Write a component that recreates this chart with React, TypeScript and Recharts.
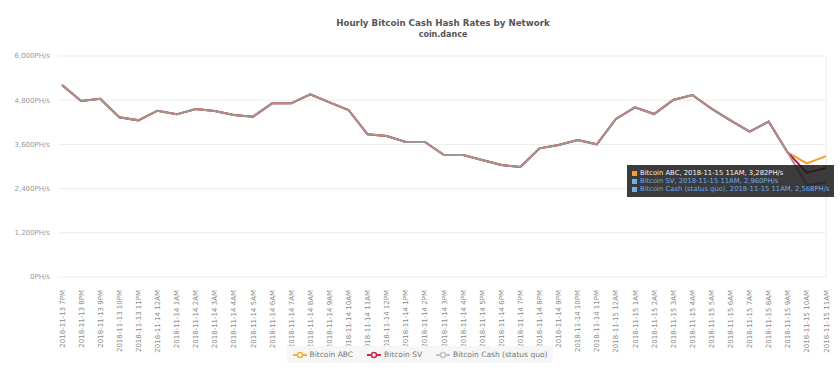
import { LineChart, Line, XAxis, YAxis, CartesianGrid, Tooltip, Legend, ReferenceLine } from "recharts";

const hours = [
  "2018-11-13 7PM", "2018-11-13 8PM", "2018-11-13 9PM", "2018-11-13 10PM", "2018-11-13 11PM",
  "2018-11-14 12AM", "2018-11-14 1AM", "2018-11-14 2AM", "2018-11-14 3AM", "2018-11-14 4AM",
  "2018-11-14 5AM", "2018-11-14 6AM", "2018-11-14 7AM", "2018-11-14 8AM", "2018-11-14 9AM",
  "2018-11-14 10AM", "2018-11-14 11AM", "2018-11-14 12PM", "2018-11-14 1PM", "2018-11-14 2PM",
  "2018-11-14 3PM", "2018-11-14 4PM", "2018-11-14 5PM", "2018-11-14 6PM", "2018-11-14 7PM",
  "2018-11-14 8PM", "2018-11-14 9PM", "2018-11-14 10PM", "2018-11-14 11PM",
  "2018-11-15 12AM", "2018-11-15 1AM", "2018-11-15 2AM", "2018-11-15 3AM", "2018-11-15 4AM",
  "2018-11-15 5AM", "2018-11-15 6AM", "2018-11-15 7AM", "2018-11-15 8AM", "2018-11-15 9AM",
  "2018-11-15 10AM", "2018-11-15 11AM",
];

// before the fork all three networks report the same hash rate
const sharedHash = [
  5213, 4778, 4841, 4335, 4253, 4515, 4416, 4561, 4507, 4398,
  4353, 4715, 4715, 4960, 4742, 4534, 3874, 3828, 3665, 3665,
  3312, 3312, 3176, 3041, 2986, 3493, 3584, 3719, 3602, 4290,
  4606, 4425, 4805, 4941, 4570, 4253, 3945, 4217, 3375,
];
const abcHash = [...sharedHash, 3086, 3282];
const svHash = [...sharedHash, 2832, 2960];
const cashHash = [...sharedHash, 2498, 2568];

const yTicks = [0, 1200, 2400, 3600, 4800, 6000];

const series = [
  { key: "abc", name: "Bitcoin ABC", color: "#f0a030", tipColor: "#f0f0f0" },
  { key: "sv", name: "Bitcoin SV", color: "#b3173d", tipColor: "#6fa8e8" },
  { key: "cash", name: "Bitcoin Cash (status quo)", color: "#a39595", tipColor: "#6fa8e8" },
];
const legendIcon = ["#f0b040", "#c8284e", "#c4c4c4"];

const data = hours.map((hour, i) => ({
  hour,
  abc: abcHash[i],
  sv: svHash[i],
  cash: cashHash[i],
}));

const font = "'DejaVu Sans', Verdana, sans-serif";
const fmt = (v: number) => `${v.toLocaleString("en-US")}PH/s`;

function HourTick({ x, y, payload }: any) {
  return (
    <text
      x={0}
      y={0}
      transform={`translate(${x + 2.5},${y + 5}) rotate(-90)`}
      textAnchor="end"
      fontSize={7}
      fill="#8a8a8a"
      fontFamily={font}
    >
      {payload.value}
    </text>
  );
}

function LegendBox() {
  return (
    <div
      style={{
        display: "flex",
        justifyContent: "center",
        fontFamily: font,
        fontSize: 7.5,
        color: "#777",
      }}
    >
      <div style={{ display: "flex", gap: 14, background: "#f6f6f6", padding: "3px 6px", lineHeight: "11px" }}>
        {series.map((s, i) => (
          <span key={s.key} style={{ display: "flex", alignItems: "center" }}>
            <svg width={14} height={8} style={{ marginRight: 3 }}>
              <line x1={0} y1={4} x2={14} y2={4} stroke={legendIcon[i]} strokeWidth={2} />
              <circle cx={7} cy={4} r={2.5} fill="#fff" stroke={legendIcon[i]} strokeWidth={1.5} />
            </svg>
            {s.name}
          </span>
        ))}
      </div>
    </div>
  );
}

function HashTip({ payload, label }: any) {
  if (!payload || !payload.length) return null;
  return (
    <div
      style={{
        background: "rgba(25,25,25,0.85)",
        padding: "4px 5px",
        fontFamily: font,
        fontSize: 6.8,
        lineHeight: "8px",
        whiteSpace: "nowrap",
      }}
    >
      {series.map((s) => {
        const p = payload.find((e: any) => e.dataKey === s.key);
        if (!p) return null;
        return (
          <div key={s.key} style={{ color: s.tipColor, display: "flex", alignItems: "center" }}>
            <span
              style={{
                display: "inline-block",
                flexShrink: 0,
                width: 5,
                height: 5,
                marginRight: 3,
                background: s.key === "abc" ? "#f0a030" : "#6fb0f0",
              }}
            />
            {`${s.name}, ${label}, ${fmt(p.value)}`}
          </div>
        );
      })}
    </div>
  );
}

export default function App() {
  return (
    <div style={{ position: "relative", width: 840, height: 373, background: "#fff", fontFamily: font }}>
      <style>{`body{margin:0}`}</style>
      <div
        style={{
          position: "absolute",
          top: 18,
          left: 58,
          width: 770,
          textAlign: "center",
          color: "#555",
          fontWeight: "bold",
          fontSize: 8.7,
          lineHeight: "11px",
        }}
      >
        Hourly Bitcoin Cash Hash Rates by Network
        <div style={{ fontSize: 8 }}>coin.dance</div>
      </div>
      <LineChart width={840} height={373} data={data} margin={{ top: 56, right: 14, left: 0, bottom: 10 }}>
        <CartesianGrid vertical={false} stroke="#ececec" />
        <XAxis
          dataKey="hour"
          interval={0}
          height={86}
          tick={<HourTick />}
          tickLine={false}
          axisLine={false}
          padding={{ left: 4, right: 0 }}
        />
        <YAxis
          width={58}
          domain={[0, 6000]}
          ticks={yTicks}
          tickFormatter={fmt}
          tickLine={false}
          axisLine={false}
          tick={{ fontSize: 7, fill: "#999", fontFamily: font }}
        />
        <ReferenceLine x={hours[hours.length - 1]} stroke="#ececec" />
        {series.map((s) => (
          <Line
            key={s.key}
            type="linear"
            dataKey={s.key}
            name={s.name}
            stroke={s.color}
            strokeWidth={2}
            dot={false}
            activeDot={false}
            isAnimationActive={false}
          />
        ))}
        <Legend
          layout="horizontal"
          verticalAlign="middle"
          align="center"
          wrapperStyle={{ top: 346, left: 0, width: 840 }}
          content={<LegendBox />}
        />
        <Tooltip
          active
          defaultIndex={40}
          cursor={false}
          position={{ x: 627, y: 165 }}
          isAnimationActive={false}
          allowEscapeViewBox={{ x: true, y: true }}
          content={<HashTip />}
        />
      </LineChart>
    </div>
  );
}
